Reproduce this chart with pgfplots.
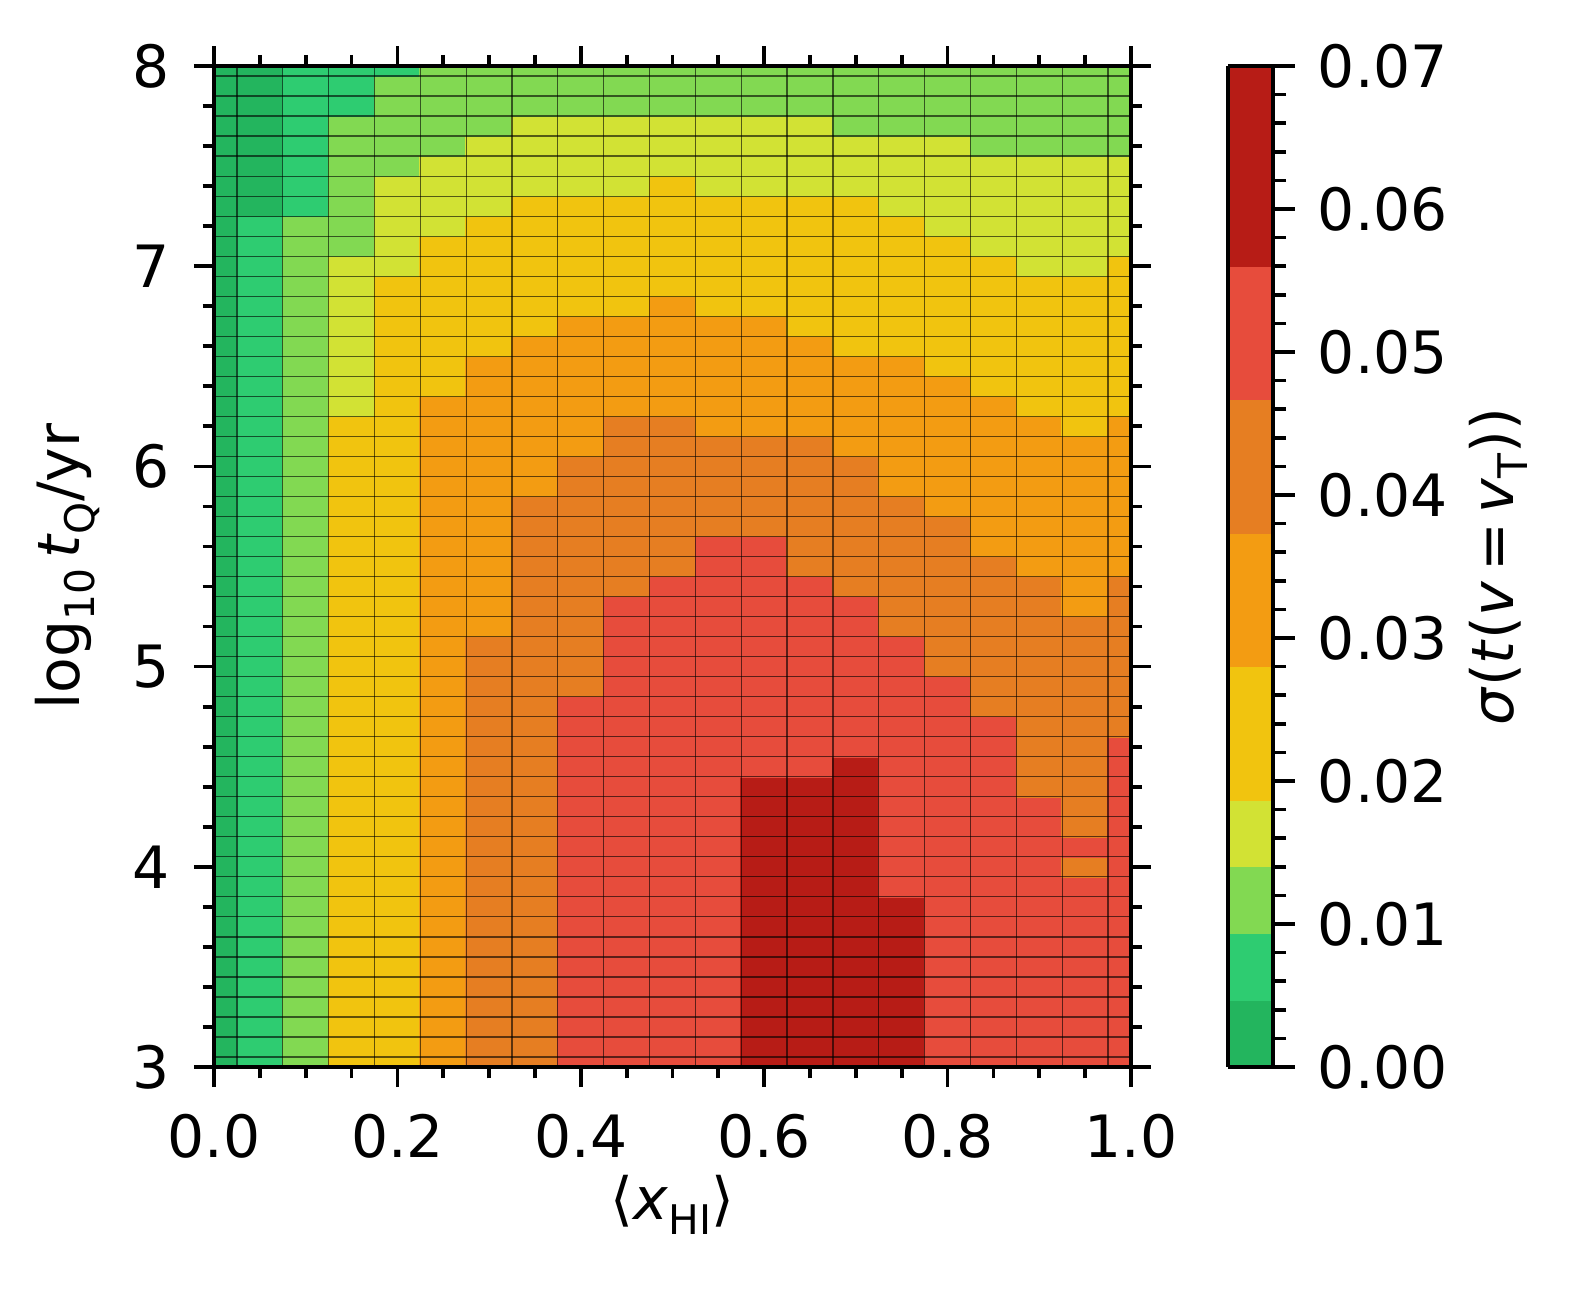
\documentclass[border=0pt]{standalone}
\usepackage{fontspec}
\setmainfont{DejaVu Sans}
\usepackage{pgfplots}
\pgfplotsset{compat=1.18}
\newcommand{\sub}[1]{\raisebox{-0.25em}{\fontsize{9.8}{10}\selectfont #1}}
\pgfplotsset{
  /pgf/number format/assume math mode=true,
  colormap={sig}{rgb255=(35,181,94) rgb255=(46,204,113) rgb255=(130,217,82) rgb255=(210,226,52) rgb255=(241,196,15) rgb255=(241,196,15) rgb255=(243,156,18) rgb255=(243,156,18) rgb255=(230,126,34) rgb255=(230,126,34) rgb255=(231,76,60) rgb255=(231,76,60) rgb255=(183,28,22) rgb255=(183,28,22) rgb255=(183,28,22)},
}
% Each block of four rows is one run of equal-valued cells (x0..x1, y0..y1) with its value c.
\pgfplotstableread{
x y c
0 3 0.0025
0.025 3 0.0025
0.025 8 0.0025
0 8 0.0025
0.025 3 0.0075
0.075 3 0.0075
0.075 7.25 0.0075
0.025 7.25 0.0075
0.025 7.25 0.0025
0.075 7.25 0.0025
0.075 8 0.0025
0.025 8 0.0025
0.075 3 0.0125
0.125 3 0.0125
0.125 7.25 0.0125
0.075 7.25 0.0125
0.075 7.25 0.0075
0.125 7.25 0.0075
0.125 8 0.0075
0.075 8 0.0075
0.125 3 0.025
0.175 3 0.025
0.175 6.25 0.025
0.125 6.25 0.025
0.125 6.25 0.0175
0.175 6.25 0.0175
0.175 7.05 0.0175
0.125 7.05 0.0175
0.125 7.05 0.0125
0.175 7.05 0.0125
0.175 7.75 0.0125
0.125 7.75 0.0125
0.125 7.75 0.0075
0.175 7.75 0.0075
0.175 8 0.0075
0.125 8 0.0075
0.175 3 0.025
0.225 3 0.025
0.225 6.95 0.025
0.175 6.95 0.025
0.175 6.95 0.0175
0.225 6.95 0.0175
0.225 7.45 0.0175
0.175 7.45 0.0175
0.175 7.45 0.0125
0.225 7.45 0.0125
0.225 7.95 0.0125
0.175 7.95 0.0125
0.175 7.95 0.0075
0.225 7.95 0.0075
0.225 8 0.0075
0.175 8 0.0075
0.225 3 0.035
0.275 3 0.035
0.275 6.35 0.035
0.225 6.35 0.035
0.225 6.35 0.025
0.275 6.35 0.025
0.275 7.15 0.025
0.225 7.15 0.025
0.225 7.15 0.0175
0.275 7.15 0.0175
0.275 7.55 0.0175
0.225 7.55 0.0175
0.225 7.55 0.0125
0.275 7.55 0.0125
0.275 8 0.0125
0.225 8 0.0125
0.275 3 0.045
0.325 3 0.045
0.325 5.15 0.045
0.275 5.15 0.045
0.275 5.15 0.035
0.325 5.15 0.035
0.325 6.55 0.035
0.275 6.55 0.035
0.275 6.55 0.025
0.325 6.55 0.025
0.325 7.25 0.025
0.275 7.25 0.025
0.275 7.25 0.0175
0.325 7.25 0.0175
0.325 7.65 0.0175
0.275 7.65 0.0175
0.275 7.65 0.0125
0.325 7.65 0.0125
0.325 8 0.0125
0.275 8 0.0125
0.325 3 0.045
0.375 3 0.045
0.375 5.85 0.045
0.325 5.85 0.045
0.325 5.85 0.035
0.375 5.85 0.035
0.375 6.65 0.035
0.325 6.65 0.035
0.325 6.65 0.025
0.375 6.65 0.025
0.375 7.35 0.025
0.325 7.35 0.025
0.325 7.35 0.0175
0.375 7.35 0.0175
0.375 7.75 0.0175
0.325 7.75 0.0175
0.325 7.75 0.0125
0.375 7.75 0.0125
0.375 8 0.0125
0.325 8 0.0125
0.375 3 0.055
0.425 3 0.055
0.425 4.85 0.055
0.375 4.85 0.055
0.375 4.85 0.045
0.425 4.85 0.045
0.425 6.05 0.045
0.375 6.05 0.045
0.375 6.05 0.035
0.425 6.05 0.035
0.425 6.75 0.035
0.375 6.75 0.035
0.375 6.75 0.025
0.425 6.75 0.025
0.425 7.35 0.025
0.375 7.35 0.025
0.375 7.35 0.0175
0.425 7.35 0.0175
0.425 7.75 0.0175
0.375 7.75 0.0175
0.375 7.75 0.0125
0.425 7.75 0.0125
0.425 8 0.0125
0.375 8 0.0125
0.425 3 0.055
0.475 3 0.055
0.475 5.35 0.055
0.425 5.35 0.055
0.425 5.35 0.045
0.475 5.35 0.045
0.475 6.25 0.045
0.425 6.25 0.045
0.425 6.25 0.035
0.475 6.25 0.035
0.475 6.75 0.035
0.425 6.75 0.035
0.425 6.75 0.025
0.475 6.75 0.025
0.475 7.35 0.025
0.425 7.35 0.025
0.425 7.35 0.0175
0.475 7.35 0.0175
0.475 7.75 0.0175
0.425 7.75 0.0175
0.425 7.75 0.0125
0.475 7.75 0.0125
0.475 8 0.0125
0.425 8 0.0125
0.475 3 0.055
0.525 3 0.055
0.525 5.45 0.055
0.475 5.45 0.055
0.475 5.45 0.045
0.525 5.45 0.045
0.525 6.25 0.045
0.475 6.25 0.045
0.475 6.25 0.035
0.525 6.25 0.035
0.525 6.85 0.035
0.475 6.85 0.035
0.475 6.85 0.025
0.525 6.85 0.025
0.525 7.45 0.025
0.475 7.45 0.025
0.475 7.45 0.0175
0.525 7.45 0.0175
0.525 7.75 0.0175
0.475 7.75 0.0175
0.475 7.75 0.0125
0.525 7.75 0.0125
0.525 8 0.0125
0.475 8 0.0125
0.525 3 0.055
0.575 3 0.055
0.575 5.65 0.055
0.525 5.65 0.055
0.525 5.65 0.045
0.575 5.65 0.045
0.575 6.15 0.045
0.525 6.15 0.045
0.525 6.15 0.035
0.575 6.15 0.035
0.575 6.75 0.035
0.525 6.75 0.035
0.525 6.75 0.025
0.575 6.75 0.025
0.575 7.35 0.025
0.525 7.35 0.025
0.525 7.35 0.0175
0.575 7.35 0.0175
0.575 7.75 0.0175
0.525 7.75 0.0175
0.525 7.75 0.0125
0.575 7.75 0.0125
0.575 8 0.0125
0.525 8 0.0125
0.575 3 0.065
0.625 3 0.065
0.625 4.45 0.065
0.575 4.45 0.065
0.575 4.45 0.055
0.625 4.45 0.055
0.625 5.65 0.055
0.575 5.65 0.055
0.575 5.65 0.045
0.625 5.65 0.045
0.625 6.15 0.045
0.575 6.15 0.045
0.575 6.15 0.035
0.625 6.15 0.035
0.625 6.75 0.035
0.575 6.75 0.035
0.575 6.75 0.025
0.625 6.75 0.025
0.625 7.35 0.025
0.575 7.35 0.025
0.575 7.35 0.0175
0.625 7.35 0.0175
0.625 7.75 0.0175
0.575 7.75 0.0175
0.575 7.75 0.0125
0.625 7.75 0.0125
0.625 8 0.0125
0.575 8 0.0125
0.625 3 0.065
0.675 3 0.065
0.675 4.45 0.065
0.625 4.45 0.065
0.625 4.45 0.055
0.675 4.45 0.055
0.675 5.45 0.055
0.625 5.45 0.055
0.625 5.45 0.045
0.675 5.45 0.045
0.675 6.15 0.045
0.625 6.15 0.045
0.625 6.15 0.035
0.675 6.15 0.035
0.675 6.65 0.035
0.625 6.65 0.035
0.625 6.65 0.025
0.675 6.65 0.025
0.675 7.35 0.025
0.625 7.35 0.025
0.625 7.35 0.0175
0.675 7.35 0.0175
0.675 7.75 0.0175
0.625 7.75 0.0175
0.625 7.75 0.0125
0.675 7.75 0.0125
0.675 8 0.0125
0.625 8 0.0125
0.675 3 0.065
0.725 3 0.065
0.725 4.55 0.065
0.675 4.55 0.065
0.675 4.55 0.055
0.725 4.55 0.055
0.725 5.35 0.055
0.675 5.35 0.055
0.675 5.35 0.045
0.725 5.35 0.045
0.725 6.05 0.045
0.675 6.05 0.045
0.675 6.05 0.035
0.725 6.05 0.035
0.725 6.55 0.035
0.675 6.55 0.035
0.675 6.55 0.025
0.725 6.55 0.025
0.725 7.35 0.025
0.675 7.35 0.025
0.675 7.35 0.0175
0.725 7.35 0.0175
0.725 7.65 0.0175
0.675 7.65 0.0175
0.675 7.65 0.0125
0.725 7.65 0.0125
0.725 8 0.0125
0.675 8 0.0125
0.725 3 0.065
0.775 3 0.065
0.775 3.85 0.065
0.725 3.85 0.065
0.725 3.85 0.055
0.775 3.85 0.055
0.775 5.15 0.055
0.725 5.15 0.055
0.725 5.15 0.045
0.775 5.15 0.045
0.775 5.85 0.045
0.725 5.85 0.045
0.725 5.85 0.035
0.775 5.85 0.035
0.775 6.55 0.035
0.725 6.55 0.035
0.725 6.55 0.025
0.775 6.55 0.025
0.775 7.25 0.025
0.725 7.25 0.025
0.725 7.25 0.0175
0.775 7.25 0.0175
0.775 7.65 0.0175
0.725 7.65 0.0175
0.725 7.65 0.0125
0.775 7.65 0.0125
0.775 8 0.0125
0.725 8 0.0125
0.775 3 0.055
0.825 3 0.055
0.825 4.95 0.055
0.775 4.95 0.055
0.775 4.95 0.045
0.825 4.95 0.045
0.825 5.75 0.045
0.775 5.75 0.045
0.775 5.75 0.035
0.825 5.75 0.035
0.825 6.45 0.035
0.775 6.45 0.035
0.775 6.45 0.025
0.825 6.45 0.025
0.825 7.15 0.025
0.775 7.15 0.025
0.775 7.15 0.0175
0.825 7.15 0.0175
0.825 7.65 0.0175
0.775 7.65 0.0175
0.775 7.65 0.0125
0.825 7.65 0.0125
0.825 8 0.0125
0.775 8 0.0125
0.825 3 0.055
0.875 3 0.055
0.875 4.75 0.055
0.825 4.75 0.055
0.825 4.75 0.045
0.875 4.75 0.045
0.875 5.55 0.045
0.825 5.55 0.045
0.825 5.55 0.035
0.875 5.55 0.035
0.875 6.35 0.035
0.825 6.35 0.035
0.825 6.35 0.025
0.875 6.35 0.025
0.875 7.05 0.025
0.825 7.05 0.025
0.825 7.05 0.0175
0.875 7.05 0.0175
0.875 7.55 0.0175
0.825 7.55 0.0175
0.825 7.55 0.0125
0.875 7.55 0.0125
0.875 8 0.0125
0.825 8 0.0125
0.875 3 0.055
0.925 3 0.055
0.925 4.35 0.055
0.875 4.35 0.055
0.875 4.35 0.045
0.925 4.35 0.045
0.925 5.45 0.045
0.875 5.45 0.045
0.875 5.45 0.035
0.925 5.45 0.035
0.925 6.25 0.035
0.875 6.25 0.035
0.875 6.25 0.025
0.925 6.25 0.025
0.925 6.95 0.025
0.875 6.95 0.025
0.875 6.95 0.0175
0.925 6.95 0.0175
0.925 7.55 0.0175
0.875 7.55 0.0175
0.875 7.55 0.0125
0.925 7.55 0.0125
0.925 8 0.0125
0.875 8 0.0125
0.925 3 0.055
0.975 3 0.055
0.975 3.95 0.055
0.925 3.95 0.055
0.925 3.95 0.045
0.975 3.95 0.045
0.975 4.05 0.045
0.925 4.05 0.045
0.925 4.05 0.055
0.975 4.05 0.055
0.975 4.15 0.055
0.925 4.15 0.055
0.925 4.15 0.045
0.975 4.15 0.045
0.975 5.25 0.045
0.925 5.25 0.045
0.925 5.25 0.035
0.975 5.25 0.035
0.975 6.15 0.035
0.925 6.15 0.035
0.925 6.15 0.025
0.975 6.15 0.025
0.975 6.95 0.025
0.925 6.95 0.025
0.925 6.95 0.0175
0.975 6.95 0.0175
0.975 7.55 0.0175
0.925 7.55 0.0175
0.925 7.55 0.0125
0.975 7.55 0.0125
0.975 8 0.0125
0.925 8 0.0125
0.975 3 0.055
1 3 0.055
1 4.65 0.055
0.975 4.65 0.055
0.975 4.65 0.045
1 4.65 0.045
1 5.45 0.045
0.975 5.45 0.045
0.975 5.45 0.035
1 5.45 0.035
1 6.25 0.035
0.975 6.25 0.035
0.975 6.25 0.025
1 6.25 0.025
1 7.05 0.025
0.975 7.05 0.025
0.975 7.05 0.0175
1 7.05 0.0175
1 7.55 0.0175
0.975 7.55 0.0175
0.975 7.55 0.0125
1 7.55 0.0125
1 8 0.0125
0.975 8 0.0125
}\cells
\begin{document}
\begin{tikzpicture}
\begin{axis}[
  scale only axis, width=220.08pt, height=240.24pt,
  xmin=0, xmax=1, ymin=3, ymax=8,
  axis on top,
  colormap name=sig, colormap access=piecewise constant,
  point meta min=0, point meta max=0.07,
  xtick={0,0.2,0.4,0.6,0.8,1}, minor x tick num=3,
  ytick={3,4,5,6,7,8}, minor y tick num=4,
  tick align=outside, xtick pos=both, ytick pos=both,
  xticklabel pos=left, yticklabel pos=left,
  major tick length=4.8pt, minor tick length=2.7pt,
  tick style={black, line width=0.9pt},
  axis line style={line width=1pt},
  xticklabel style={yshift=-2.9pt, /pgf/number format/fixed, /pgf/number format/fixed zerofill, /pgf/number format/precision=1},
  yticklabel style={xshift=-2.4pt},
  tick label style={font=\fontsize{14}{16}\selectfont},
  label style={font=\fontsize{14}{16}\selectfont},
  xlabel={⟨\textit{x}\sub{HI}⟩},
  ylabel={log\sub{10}\,\textit{t}\sub{Q}/yr},
  xlabel style={at={(axis description cs:0.5,-0.138)}, anchor=center},
  ylabel style={at={(axis description cs:-0.16,0.5)}, anchor=center},
  colorbar right,
  colorbar style={
    scale only axis, width=10.8pt, height=240.24pt,
    at={(parent axis.north east)}, anchor=north west, xshift=14.8pt,
    ytick={0,0.01,0.02,0.03,0.04,0.05,0.06,0.07},
    minor y tick num=4,
    ytick pos=right, yticklabel pos=right,
    tick align=outside,
    major tick length=5.2pt, minor tick length=3.1pt,
    tick style={black, line width=0.9pt},
    axis line style={line width=1pt},
    scaled y ticks=false,
    yticklabel style={xshift=2pt, font=\fontsize{14}{16}\selectfont, /pgf/number format/fixed, /pgf/number format/fixed zerofill, /pgf/number format/precision=2},
    ylabel={\textit{σ}(\textit{t}(\textit{v}\,=\,\textit{v}\sub{T}))},
    ylabel style={font=\fontsize{14}{16}\selectfont, at={(axis description cs:6.0,0.5)}, anchor=center},
  },
]
\addplot[patch, patch type=rectangle, shader=flat, point meta=explicit] table[x=x, y=y, meta=c] {\cells};
% cell edges of the grid (x = 0.025 + 0.05k, y = 3.05 + 0.1k)
\addplot[ycomb, no markers, black, opacity=0.6, line width=0.3pt] coordinates {
(0.025,8) (0.075,8) (0.125,8) (0.175,8) (0.225,8) (0.275,8) (0.325,8) (0.375,8) (0.425,8) (0.475,8)
(0.525,8) (0.575,8) (0.625,8) (0.675,8) (0.725,8) (0.775,8) (0.825,8) (0.875,8) (0.925,8) (0.975,8)};
\addplot[xcomb, no markers, black, opacity=0.6, line width=0.3pt] coordinates {
(1,3.05) (1,3.15) (1,3.25) (1,3.35) (1,3.45) (1,3.55) (1,3.65) (1,3.75) (1,3.85) (1,3.95)
(1,4.05) (1,4.15) (1,4.25) (1,4.35) (1,4.45) (1,4.55) (1,4.65) (1,4.75) (1,4.85) (1,4.95)
(1,5.05) (1,5.15) (1,5.25) (1,5.35) (1,5.45) (1,5.55) (1,5.65) (1,5.75) (1,5.85) (1,5.95)
(1,6.05) (1,6.15) (1,6.25) (1,6.35) (1,6.45) (1,6.55) (1,6.65) (1,6.75) (1,6.85) (1,6.95)
(1,7.05) (1,7.15) (1,7.25) (1,7.35) (1,7.45) (1,7.55) (1,7.65) (1,7.75) (1,7.85) (1,7.95)};
\end{axis}
\path (-51.36pt,-54.96pt) rectangle (326.88pt,256.08pt);
\end{tikzpicture}
\end{document}
